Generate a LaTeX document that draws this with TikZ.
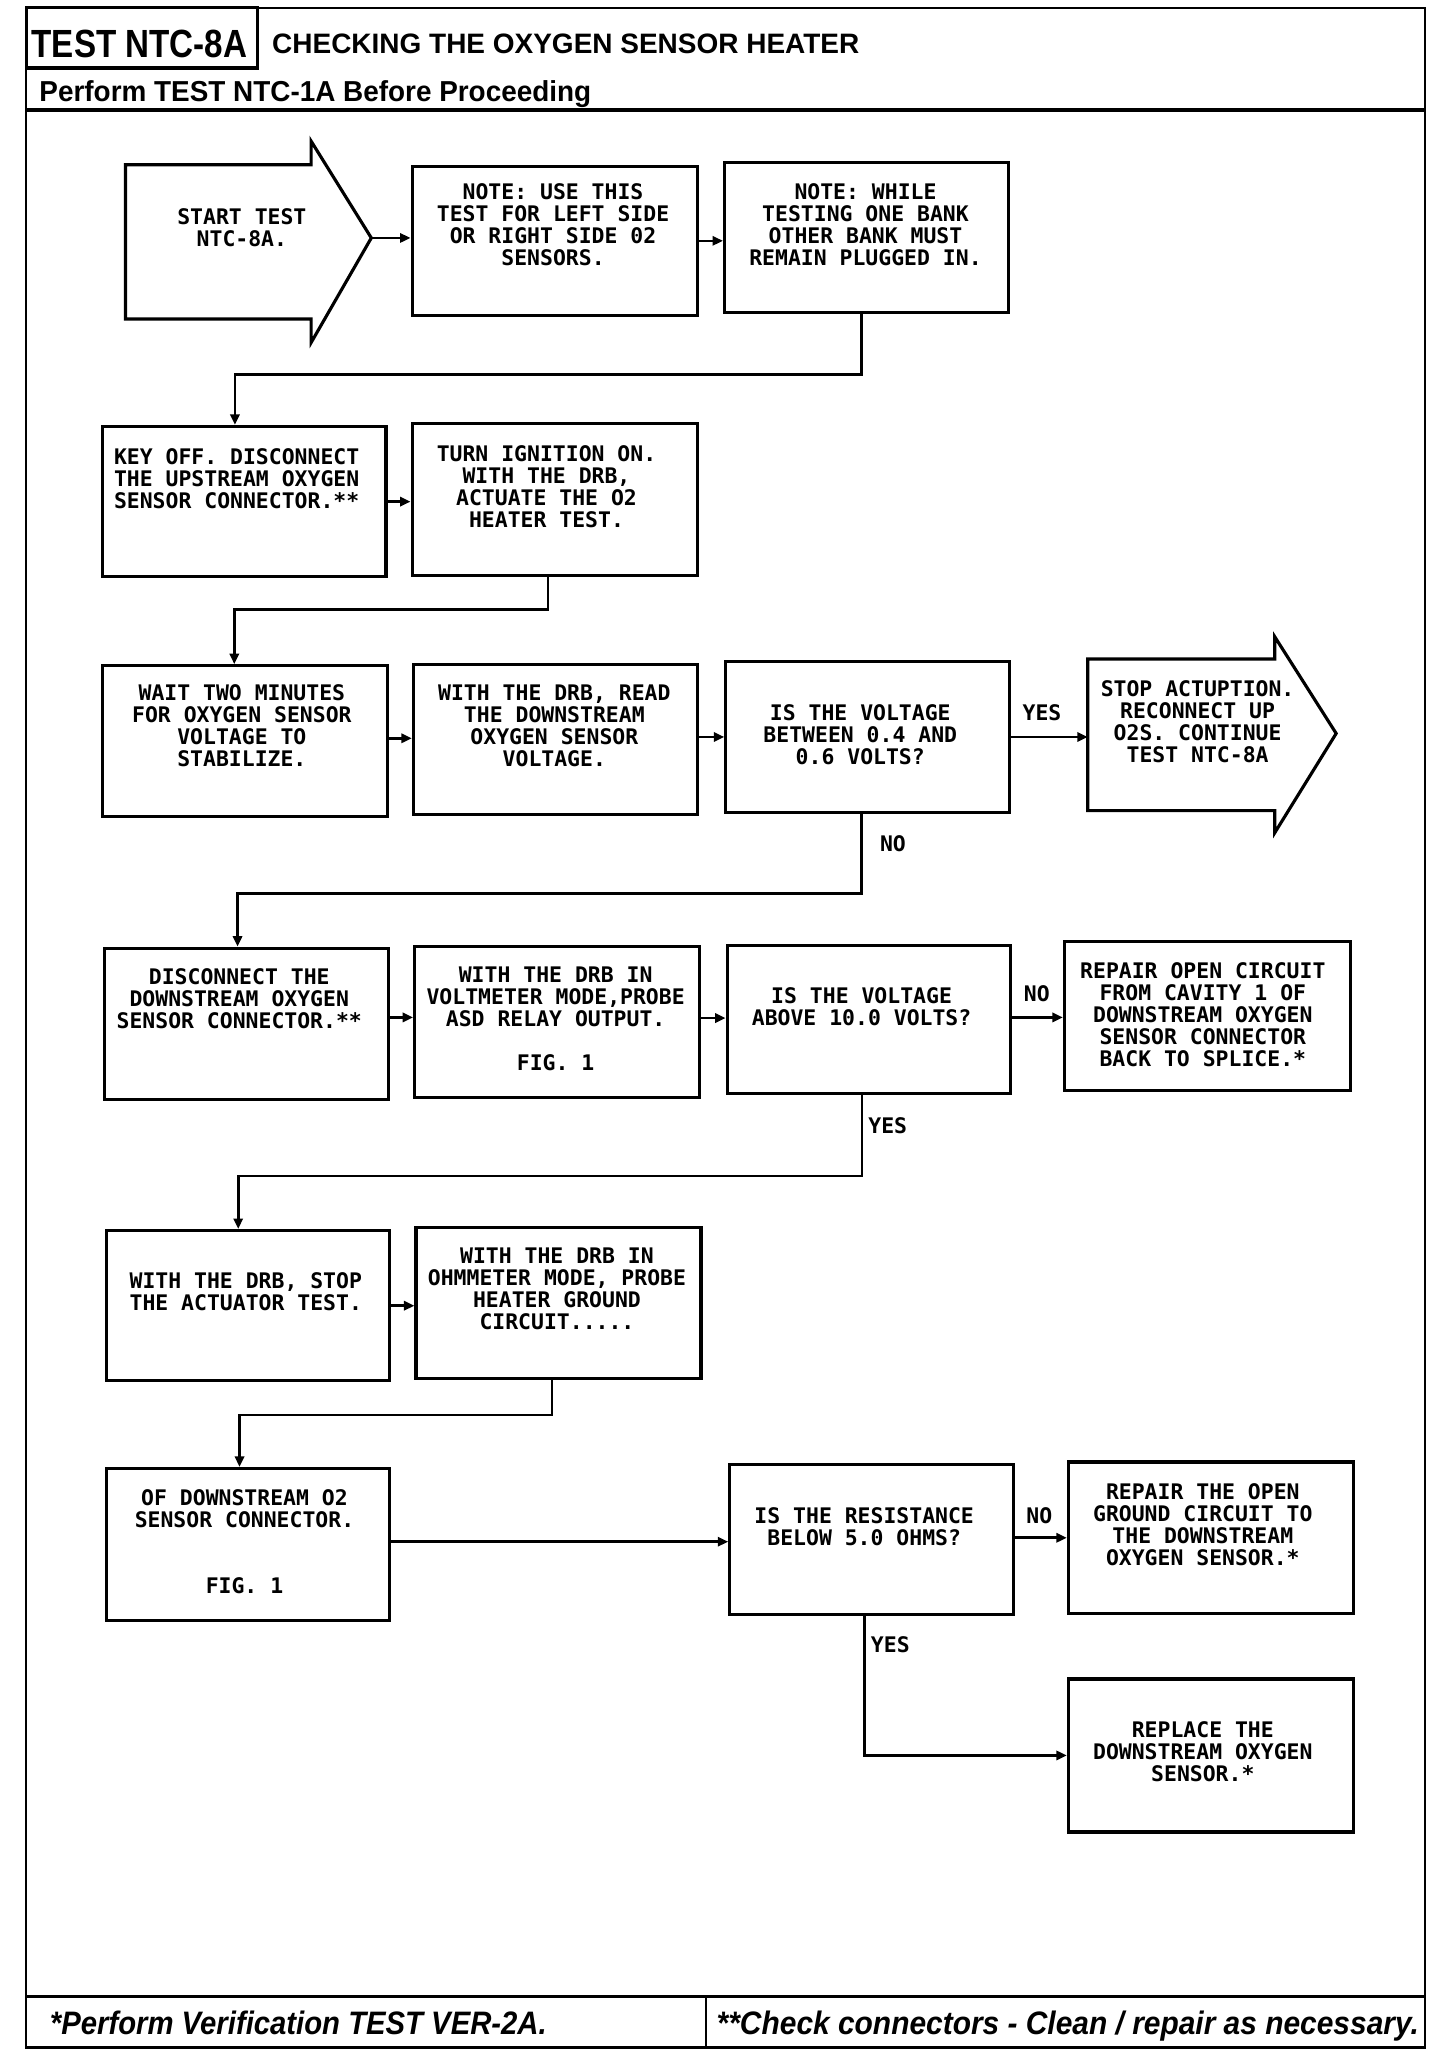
\documentclass[tikz,border=0pt]{standalone}
\usepackage{fontspec}
\usepackage{graphicx}
\usetikzlibrary{arrows.meta}
\setmainfont{Liberation Sans}
\newfontfamily\plotfont{DejaVu Sans Mono}
\begin{document}
\begin{tikzpicture}[x=1pt,y=-1pt,
  box/.style={draw, line width=2.4pt, rectangle, inner sep=0pt, anchor=north west},
  shaft/.style={draw=none, rectangle, inner sep=0pt, outer sep=0pt, anchor=north west},
  outline/.style={line width=2.4pt, line join=miter},
  txt/.style={font=\plotfont\bfseries\fontsize{16.4}{16.8}\selectfont, align=center, inner sep=0pt},
  conn/.style={line width=2pt, -{Triangle[length=8pt,width=7pt]}},
  hdr/.style={inner sep=0pt, anchor=base west}]
\useasboundingbox (0,0) rectangle (1101,1568);
% frame
\draw[line width=2pt] (20,6) rectangle (1090,1566);
\draw[line width=2.4pt] (20,6) rectangle (197,52);
\draw[line width=2.6pt] (20,84) -- (1090,84);
\draw[line width=2.6pt] (20,1527) -- (1090,1527);
\draw[line width=2pt] (540,1527) -- (540,1566);
\node[hdr] (title) at (24,44) {\resizebox{165pt}{21pt}{\bfseries TEST NTC-8A}};
\node[hdr] (subtitle) at (208,41) {\resizebox{449pt}{15pt}{\bfseries CHECKING THE OXYGEN SENSOR HEATER}};
\node[hdr] (pre) at (30,78) {\resizebox{422pt}{16pt}{\bfseries Perform TEST NTC-1A Before Proceeding}};
\node[hdr] (foot1) at (38,1556) {\resizebox{380pt}{18pt}{\bfseries\itshape *Perform Verification TEST VER-2A.}};
\node[hdr] (foot2) at (548,1556) {\resizebox{537pt}{18pt}{\bfseries\itshape **Check connectors - Clean / repair as necessary.}};

% start arrow
\node[shaft, minimum width=142pt, minimum height=118pt] (start) at (96,126) {};
\coordinate (startTip) at (284,182);
\draw[outline] (start.north west) -- (start.north east) -- ++(0,-18) -- (startTip) -- ([yshift=-18pt]start.south east) -- (start.south east) -- (start.south west) -- cycle;
\node[txt] (startT) at (185,174) {START TEST\\NTC-8A.};

% row 1
\node[box, minimum width=218pt, minimum height=114pt] (n1) at (314,126) {};
\node[txt] (n1T) at (423,172) {NOTE: USE THIS\\TEST FOR LEFT SIDE\\OR RIGHT SIDE 02\\SENSORS.};
\node[box, minimum width=217pt, minimum height=115pt] (n2) at (553,123) {};
\node[txt] (n2T) at (662,172) {NOTE: WHILE\\TESTING ONE BANK\\OTHER BANK MUST\\REMAIN PLUGGED IN.};

% row 2
\node[box, minimum width=217pt, minimum height=115pt] (A) at (77,325) {};
\node[txt] (AT) at (181,366) {KEY OFF. DISCONNECT\\THE UPSTREAM OXYGEN\\SENSOR CONNECTOR.**};
\node[box, minimum width=218pt, minimum height=116pt] (B) at (314,323) {};
\node[txt] (BT) at (418,372) {TURN IGNITION ON.\\WITH THE DRB,\\ACTUATE THE O2\\HEATER TEST.};

% row 3
\node[box, minimum width=218pt, minimum height=115pt] (C) at (77,508) {};
\node[txt] (CT) at (185,555) {WAIT TWO MINUTES\\FOR OXYGEN SENSOR\\VOLTAGE TO\\STABILIZE.};
\node[box, minimum width=217pt, minimum height=115pt] (D) at (315,507) {};
\node[txt] (DT) at (424,555) {WITH THE DRB, READ\\THE DOWNSTREAM\\OXYGEN SENSOR\\VOLTAGE.};
\node[box, minimum width=217pt, minimum height=115pt] (E) at (554,505) {};
\node[txt] (ET) at (658,562) {IS THE VOLTAGE\\BETWEEN 0.4 AND\\0.6 VOLTS?};
\node[shaft, minimum width=143pt, minimum height=116pt] (fin) at (832,504) {};
\coordinate (finTip) at (1022,561);
\draw[outline] (fin.north west) -- (fin.north east) -- ++(0,-17) -- (finTip) -- ([yshift=-17pt]fin.south east) -- (fin.south east) -- (fin.south west) -- cycle;
\node[txt] (finT) at (916,552) {STOP ACTUPTION.\\RECONNECT UP\\O2S. CONTINUE\\TEST NTC-8A};

% row 4
\node[box, minimum width=217pt, minimum height=116pt] (G) at (79,724) {};
\node[txt] (GT) at (183,764) {DISCONNECT THE\\DOWNSTREAM OXYGEN\\SENSOR CONNECTOR.**};
\node[box, minimum width=218pt, minimum height=115pt] (H) at (316,723) {};
\node[txt] (HT) at (425,779) {WITH THE DRB IN\\VOLTMETER MODE,PROBE\\ASD RELAY OUTPUT.\\[16.8pt]FIG. 1};
\node[box, minimum width=217pt, minimum height=113pt] (I) at (555,722) {};
\node[txt] (IT) at (659,770) {IS THE VOLTAGE\\ABOVE 10.0 VOLTS?};
\node[box, minimum width=219pt, minimum height=114pt] (J) at (813,719) {};
\node[txt] (JT) at (920,776) {REPAIR OPEN CIRCUIT\\FROM CAVITY 1 OF\\DOWNSTREAM OXYGEN\\SENSOR CONNECTOR\\BACK TO SPLICE.*};

% row 5
\node[box, minimum width=217pt, minimum height=115pt] (K) at (80,940) {};
\node[txt] (KT) at (188,988) {WITH THE DRB, STOP\\THE ACTUATOR TEST.};
\node[box, minimum width=218pt, minimum height=115pt] (L) at (317,938) {};
\node[txt] (LT) at (426,986) {WITH THE DRB IN\\OHMMETER MODE, PROBE\\HEATER GROUND\\CIRCUIT.....};

% row 6
\node[box, minimum width=217pt, minimum height=116pt] (M) at (80,1122) {};
\node[txt] (MT) at (187,1179) {OF DOWNSTREAM O2\\SENSOR CONNECTOR.\\[33.6pt]FIG. 1};
\node[box, minimum width=217pt, minimum height=115pt] (N) at (557,1119) {};
\node[txt] (NT) at (661,1168) {IS THE RESISTANCE\\BELOW 5.0 OHMS?};
\node[box, minimum width=218pt, minimum height=116pt] (O) at (816,1117) {};
\node[txt] (OT) at (920,1166) {REPAIR THE OPEN\\GROUND CIRCUIT TO\\THE DOWNSTREAM\\OXYGEN SENSOR.*};

% row 7
\node[box, minimum width=218pt, minimum height=117pt] (P) at (816,1283) {};
\node[txt] (PT) at (920,1340) {REPLACE THE\\DOWNSTREAM OXYGEN\\SENSOR.*};

% connectors
\draw[conn] (startTip) -- (startTip -| n1.west);
\draw[conn] (n1.east) -- (n1.east -| n2.west);
\draw[conn] ([xshift=-4pt]n2.south) -- ++(0,46) -| ([xshift=-7pt]A.north);
\draw[conn] (A.east) -- (A.east -| B.west);
\draw[conn] ([xshift=-5pt]B.south) -- ++(0,25) -| ([xshift=-8pt]C.north);
\draw[conn] ([yshift=2pt]C.east) -- ([yshift=2pt]C.east -| D.west);
\draw[conn] ([yshift=2pt]D.east) -- ([yshift=2pt]D.east -| E.west);
\draw[conn] (E.east) -- (E.east -| fin.west);
\draw[conn] ([xshift=-5pt]E.south) -- ++(0,61) -| ([xshift=-7pt]G.north);
\draw[conn] ([yshift=5pt]G.east) -- ([yshift=5pt]G.east -| H.west);
\draw[conn] ([yshift=3pt]H.east) -- ([yshift=3pt]H.east -| I.west);
\draw[conn] ([yshift=1.5pt]I.east) -- ([yshift=1.5pt]I.east -| J.west);
\draw[conn] ([xshift=-5.5pt]I.south) -- ++(0,62) -| ([xshift=-7.5pt]K.north);
\draw[conn] (K.east) -- (K.east -| L.west);
\draw[conn] ([xshift=-5pt]L.south) -- ++(0,27) -| ([xshift=-6.5pt]M.north);
\draw[conn] ([yshift=2pt]M.east) -- ([yshift=2pt]M.east -| N.west);
\draw[conn] ([yshift=1.5pt]N.east) -- ([yshift=1.5pt]N.east -| O.west);
\draw[conn] ([xshift=-5.5pt]N.south) |- (P.west);

% branch labels
\node[txt] (yes1) at (797,545) {YES};
\node[txt] (no1) at (683,645) {NO};
\node[txt] (no2) at (793,760) {NO};
\node[txt] (yes2) at (679,861) {YES};
\node[txt] (no3) at (795,1159) {NO};
\node[txt] (yes3) at (681,1258) {YES};
\end{tikzpicture}
\end{document}
